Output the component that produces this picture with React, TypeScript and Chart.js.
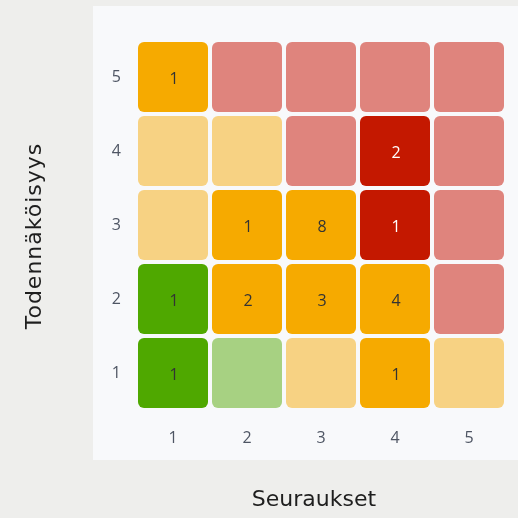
import React, { useEffect, useRef } from "react";
import { Chart, registerables } from "chart.js";

Chart.register(...registerables);

// Consequences (x) and likelihood (y)
const consequences = ["1", "2", "3", "4", "5"];
const likelihoods = [5, 4, 3, 2, 1];

// Risk counts per likelihood row (columns = consequence 1..5)
const counts5 = [1, 0, 0, 0, 0];
const counts4 = [0, 0, 0, 2, 0];
const counts3 = [0, 1, 8, 1, 0];
const counts2 = [1, 2, 3, 4, 0];
const counts1 = [1, 0, 0, 1, 0];

// Risk level per cell: L = low, M = medium, H = high
const levels5 = ["M", "H", "H", "H", "H"];
const levels4 = ["M", "M", "H", "H", "H"];
const levels3 = ["M", "M", "M", "H", "H"];
const levels2 = ["L", "M", "M", "M", "H"];
const levels1 = ["L", "L", "M", "M", "M"];

const xTitle = "Seuraukset";
const yTitle = "Todennäköisyys";

const rowCounts = [counts5, counts4, counts3, counts2, counts1];
const rowLevels = [levels5, levels4, levels3, levels2, levels1];

const strongColors: Record<string, string> = { L: "#4fa800", M: "#f6aa00", H: "#c41800" };
const lightColors: Record<string, string> = { L: "#a7d182", M: "#f7d283", H: "#df847d" };
const textColors: Record<string, string> = { L: "#333333", M: "#333333", H: "#ffffff" };

export default function App() {
  const ref = useRef<HTMLCanvasElement | null>(null);

  useEffect(() => {
    if (!ref.current) return;
    const half = 0.473;
    const datasets = likelihoods.map((y, i) => ({
      label: String(y),
      data: consequences.map(() => [y - half, y + half] as [number, number]),
      backgroundColor: consequences.map((_, j) =>
        rowCounts[i][j] > 0 ? strongColors[rowLevels[i][j]] : lightColors[rowLevels[i][j]]
      ),
      borderWidth: 0,
      borderRadius: 6,
      borderSkipped: false as const,
      barPercentage: 0.946,
      categoryPercentage: 1,
      grouped: false,
    }));

    const panelPlugin = {
      id: "panel",
      beforeDraw(chart: any) {
        const { ctx, chartArea, width, height } = chart;
        ctx.save();
        ctx.fillStyle = "#eeeeec";
        ctx.fillRect(0, 0, width, height);
        ctx.fillStyle = "#f8f9fb";
        const left = chartArea.left - 43;
        const top = chartArea.top - 34;
        ctx.fillRect(left, top, width - left, chartArea.bottom + 50 - top);
        ctx.restore();
      },
    };

    const labelPlugin = {
      id: "cellLabels",
      afterDatasetsDraw(chart: any) {
        const { ctx } = chart;
        ctx.save();
        ctx.font = '16px "Open Sans", sans-serif';
        ctx.textAlign = "center";
        ctx.textBaseline = "middle";
        chart.data.datasets.forEach((ds: any, i: number) => {
          const meta = chart.getDatasetMeta(i);
          meta.data.forEach((el: any, j: number) => {
            const c = rowCounts[i][j];
            if (c > 0) {
              const p = el.getProps(["x", "y", "base"], true);
              ctx.fillStyle = textColors[rowLevels[i][j]];
              ctx.fillText(String(c), p.x + 1, (p.y + p.base) / 2 + 2);
            }
          });
        });
        ctx.restore();
      },
    };

    const titlePlugin = {
      id: "axisTitles",
      afterDraw(chart: any) {
        const { ctx, chartArea } = chart;
        ctx.save();
        ctx.font = '22px "DejaVu Sans", sans-serif';
        ctx.fillStyle = "#1e1e1e";
        ctx.textAlign = "center";
        ctx.textBaseline = "middle";
        ctx.fillText(xTitle, chartArea.left + 178, chartArea.bottom + 90);
        ctx.translate(chartArea.left - 101, chartArea.top + 196);
        ctx.rotate(-Math.PI / 2);
        (ctx as any).letterSpacing = "1px";
        ctx.fillText(yTitle, 0, 0);
        ctx.restore();
      },
    };

    const chart = new Chart(ref.current, {
      type: "bar",
      data: { labels: consequences, datasets: datasets as any },
      options: {
        animation: false,
        responsive: true,
        maintainAspectRatio: false,
        layout: { padding: { top: 40, right: 12, left: 0, bottom: 0 } },
        plugins: { legend: { display: false }, tooltip: { enabled: false } },
        scales: {
          x: {
            type: "category",
            grid: { display: false, drawTicks: false },
            border: { display: false },
            ticks: { color: "#4e5563", padding: 19, font: { family: "Open Sans", size: 16 } },
            afterFit(scale: any) {
              scale.height = 108;
            },
          },
          y: {
            type: "linear",
            min: 0.5,
            max: 5.5,
            grid: { display: false, drawTicks: false },
            border: { display: false },
            ticks: { color: "#4e5563", padding: 15, font: { family: "Open Sans", size: 16 } },
            afterBuildTicks(scale: any) {
              scale.ticks = likelihoods.map((v) => ({ value: v }));
            },
            afterFit(scale: any) {
              scale.width = 136;
            },
          },
        },
      },
      plugins: [panelPlugin, labelPlugin, titlePlugin],
    });
    return () => chart.destroy();
  }, []);

  return (
    <div style={{ position: "fixed", left: 0, top: 0, width: 518, height: 518, background: "#eeeeec" }}>
      <canvas ref={ref} />
    </div>
  );
}
